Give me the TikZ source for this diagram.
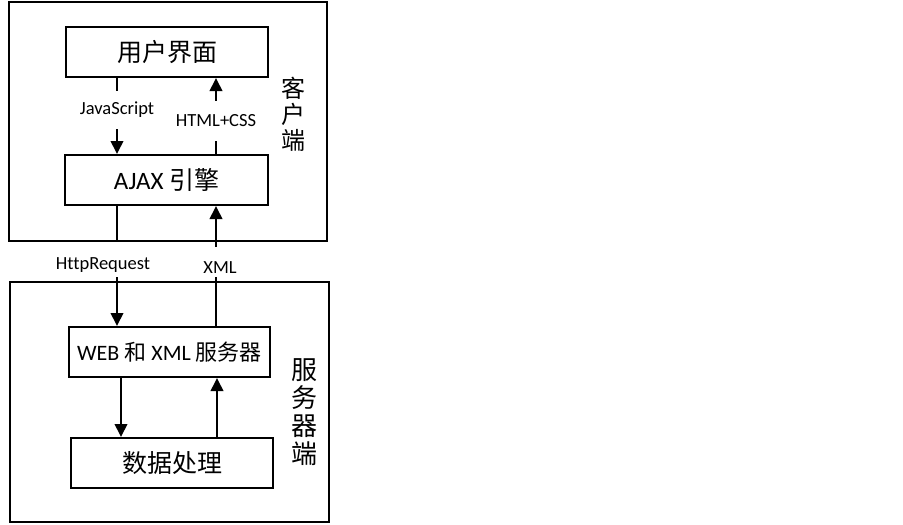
\documentclass[tikz,border=0pt]{standalone}
\usepackage{fontspec}
\setmainfont{Carlito}[Ligatures=NoCommon]
\newfontfamily\cjk{Noto Sans CJK SC}
\usetikzlibrary{arrows.meta}
\begin{document}
\begin{tikzpicture}[x=1pt,y=-1pt,
  box/.style={draw,line width=2pt,minimum height=50pt,inner sep=0pt},
  frame/.style={draw,line width=2pt,inner sep=0pt},
  ln/.style={line width=2pt},
  arr/.style={line width=2pt,-{Triangle[length=13pt,width=12.5pt]}},
  lbl/.style={font=\fontsize{18.5}{21}\selectfont,inner sep=0pt}]
\useasboundingbox (0,0) rectangle (903,525);
% frames
\node[frame,minimum width=318pt,minimum height=239pt] (client) at (168,121.5) {};
\node[frame,minimum width=319pt,minimum height=240pt] (server) at (169.5,402) {};
% boxes
\node[box,minimum width=202pt,font=\fontsize{25}{28}\selectfont] (ui) at (167,52) {\cjk 用户界面};
\node[box,minimum width=203pt,font=\fontsize{25}{28}\selectfont] (ajax) at (166.5,180) {AJAX {\cjk 引擎}};
\node[box,minimum width=201pt,font=\fontsize{22}{26}\selectfont] (web) at (169.5,352) {WEB {\cjk 和} XML {\cjk 服务器}};
\node[box,minimum width=202pt,font=\fontsize{25}{28}\selectfont] (data) at (172,463) {\cjk 数据处理};
% side labels
\node[font=\fontsize{24}{26}\selectfont\cjk,align=center,inner sep=0pt] (cl) at (293,114) {客\\户\\端};
\node[font=\fontsize{26}{28}\selectfont\cjk,align=center,inner sep=0pt] (sl) at (304,412) {服\\务\\器\\端};
% labels between ui and ajax
\node[lbl,minimum height=38pt] (js) at (117,110) {JavaScript};
\node[lbl,minimum height=40pt] (hc) at (216,121) {HTML+CSS};
\draw[ln] (ui.south -| js) -- (js.north);
\draw[arr] (js.south) -- (ajax.north -| js);
\draw[ln] (ajax.north -| hc) -- (hc.south);
\draw[arr] (hc.north) -- (ui.south -| hc);
% labels between client and server
\node[lbl] (hr) at (103,265) {HttpRequest};
\node[lbl] (xml) at (220,268) {XML};
\coordinate (hrs) at (117,277);
\coordinate (xmls) at (216,277);
\coordinate (xmlt) at (216,247);
\draw[ln] (ajax.south -| hrs) -- (client.south -| hrs);
\draw[arr] (hrs) -- (web.north -| hrs);
\draw[ln] (web.north -| xmls) -- (xmls);
\draw[arr] (xmlt) -- (ajax.south -| xmlt);
% server internal
\draw[arr] (web.south -| 121,0) -- (data.north -| 121,0);
\draw[arr] (data.north -| 217,0) -- (web.south -| 217,0);
\end{tikzpicture}
\end{document}
